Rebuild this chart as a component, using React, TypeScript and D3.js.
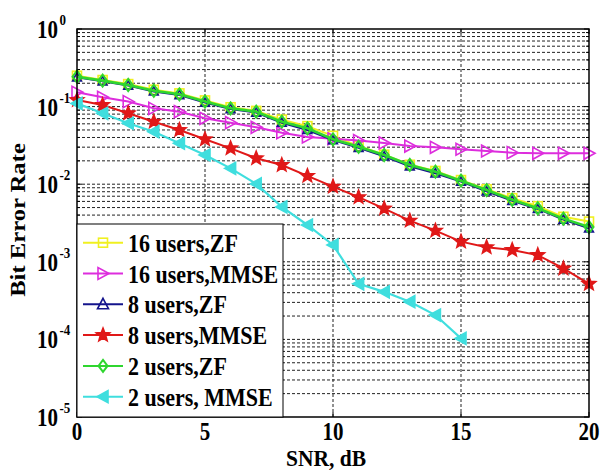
import React from "react";
import * as d3 from "d3";

const SNR = [0, 1, 2, 3, 4, 5, 6, 7, 8, 9, 10, 11, 12, 13, 14, 15, 16, 17, 18, 19, 20];
const SNR_2MMSE = [0, 1, 2, 3, 4, 5, 6, 7, 8, 9, 10, 11, 12, 13, 14, 15];

const zf16 = [0.25, 0.22, 0.195, 0.165, 0.148, 0.12, 0.098, 0.088, 0.068, 0.056, 0.042, 0.031, 0.024, 0.0178, 0.0148, 0.0113, 0.0086, 0.0066, 0.0052, 0.0038, 0.0033];
const mmse16 = [0.153, 0.132, 0.116, 0.095, 0.086, 0.0707, 0.0621, 0.0541, 0.0461, 0.0406, 0.0385, 0.0366, 0.034, 0.031, 0.0299, 0.0282, 0.0268, 0.0255, 0.025, 0.025, 0.025];
const zf8 = [0.238, 0.212, 0.187, 0.157, 0.141, 0.113, 0.093, 0.084, 0.062, 0.05, 0.037, 0.0295, 0.0228, 0.017, 0.0138, 0.0108, 0.0081, 0.0061, 0.0048, 0.0035, 0.0027];
const mmse8 = [0.1216, 0.105, 0.082, 0.0639, 0.0499, 0.0379, 0.029, 0.0216, 0.0177, 0.0128, 0.0093, 0.0068, 0.00485, 0.00339, 0.00252, 0.00182, 0.00154, 0.00142, 0.00122, 0.00082, 0.00052];
const zf2 = [0.243, 0.216, 0.19, 0.16, 0.144, 0.116, 0.095, 0.086, 0.064, 0.0525, 0.0379, 0.0304, 0.0238, 0.0177, 0.0145, 0.0111, 0.0084, 0.0063, 0.0049, 0.0036, 0.0028];
const mmse2 = [0.11, 0.082, 0.061, 0.0475, 0.0337, 0.0238, 0.016, 0.0101, 0.0051, 0.00298, 0.00165, 0.00052, 0.00041, 0.000306, 0.000206, 0.000103];

const X_TICKS = [0, 5, 10, 15, 20];
const Y_EXPONENTS = [0, -1, -2, -3, -4, -5];

const LABELS = ["16 users,ZF", "16 users,MMSE", "8 users,ZF", "8 users,MMSE", "2 users,ZF", "2 users, MMSE"];

type MarkerKind = "square" | "triRight" | "triUp" | "star" | "diamond" | "triLeft";

const SERIES: { label: string; x: number[]; y: number[]; color: string; marker: MarkerKind; filled: boolean; lw: number; ms: number }[] = [
  { label: LABELS[0], x: SNR, y: zf16, color: "#f0f020", marker: "square", filled: false, lw: 2, ms: 1 },
  { label: LABELS[1], x: SNR, y: mmse16, color: "#dd2ddd", marker: "triRight", filled: false, lw: 2, ms: 1 },
  { label: LABELS[2], x: SNR, y: zf8, color: "#14148c", marker: "triUp", filled: false, lw: 2, ms: 0.8 },
  { label: LABELS[3], x: SNR, y: mmse8, color: "#e01818", marker: "star", filled: true, lw: 2, ms: 1 },
  { label: LABELS[4], x: SNR, y: zf2, color: "#2fd62f", marker: "diamond", filled: false, lw: 2.6, ms: 1 },
  { label: LABELS[5], x: SNR_2MMSE, y: mmse2, color: "#3fdede", marker: "triLeft", filled: true, lw: 2.2, ms: 1 },
];

const FONT = "'Liberation Serif', 'Times New Roman', serif";

function Marker({ kind, cx, cy, color, filled, ms = 1 }: { kind: MarkerKind; cx: number; cy: number; color: string; filled: boolean; ms?: number }) {
  const sw = kind === "diamond" ? 2 : 1.6;
  const common = { stroke: color, strokeWidth: sw, fill: filled ? color : "none" };
  if (kind === "square") return <rect x={cx - 4.5} y={cy - 4.5} width={9} height={9} {...common} />;
  let pts: [number, number][] = [];
  if (kind === "triRight") pts = [[cx + 6, cy], [cx - 5, cy - 6], [cx - 5, cy + 6]];
  if (kind === "triLeft") pts = [[cx - 6, cy], [cx + 5, cy - 6], [cx + 5, cy + 6]];
  if (kind === "triUp") pts = [[cx, cy - 6 * ms], [cx + 5.5 * ms, cy + 4.5 * ms], [cx - 5.5 * ms, cy + 4.5 * ms]];
  if (kind === "diamond") pts = [[cx, cy - 6], [cx + 4.5, cy], [cx, cy + 6], [cx - 4.5, cy]];
  if (kind === "star") {
    for (let i = 0; i < 10; i++) {
      const r = i % 2 === 0 ? 7 : 3;
      const a = -Math.PI / 2 + (i * Math.PI) / 5;
      pts.push([cx + r * Math.cos(a), cy + r * Math.sin(a)]);
    }
  }
  return <polygon points={pts.map((p) => p.join(",")).join(" ")} {...common} strokeLinejoin="miter" />;
}

export default function App() {
  const L = 77, R = 589, T = 29, B = 417;
  const x = d3.scaleLinear().domain([0, 20]).range([L, R]);
  const y = d3.scaleLog().domain([1e-5, 1]).range([B, T]);

  const minorY: number[] = [];
  for (let e = -5; e < 0; e++) {
    for (let k = 2; k <= 9; k++) minorY.push(k * Math.pow(10, e));
  }
  const majorY = Y_EXPONENTS.map((e) => Math.pow(10, e));

  const line = d3
    .line<[number, number]>()
    .x((d) => x(d[0]))
    .y((d) => y(d[1]));

  const legendX0 = L, legendX1 = 283, legendY0 = 224, legendY1 = B;
  const rowY = (i: number) => 242.7 + i * 30.8;

  return (
    <svg width={601} height={470} style={{ position: "absolute", left: 0, top: 0, background: "#fff" }}>
      <rect x={0} y={0} width={601} height={470} fill="#fff" />
      {/* grid */}
      <g stroke="#222" strokeWidth={1} strokeDasharray="3,2" fill="none">
        {minorY.map((v, i) => (
          <line key={"mn" + i} x1={L} x2={R} y1={y(v)} y2={y(v)} />
        ))}
        {majorY.slice(1, -1).map((v, i) => (
          <line key={"mj" + i} x1={L} x2={R} y1={y(v)} y2={y(v)} />
        ))}
        {X_TICKS.slice(1, -1).map((t) => (
          <line key={"vx" + t} x1={x(t)} x2={x(t)} y1={T} y2={B} />
        ))}
      </g>
      {/* ticks */}
      <g stroke="#000" strokeWidth={1}>
        {X_TICKS.map((t) => (
          <g key={"xt" + t}>
            <line x1={x(t)} x2={x(t)} y1={B} y2={B - 5} />
            <line x1={x(t)} x2={x(t)} y1={T} y2={T + 5} />
          </g>
        ))}
        {majorY.map((v, i) => (
          <g key={"yt" + i}>
            <line x1={L} x2={L + 5} y1={y(v)} y2={y(v)} />
            <line x1={R} x2={R - 5} y1={y(v)} y2={y(v)} />
          </g>
        ))}
        {minorY.map((v, i) => (
          <g key={"ymt" + i}>
            <line x1={L} x2={L + 3} y1={y(v)} y2={y(v)} />
            <line x1={R} x2={R - 3} y1={y(v)} y2={y(v)} />
          </g>
        ))}
      </g>
      {/* series */}
      {SERIES.map((s, si) => {
        const pts = s.x.map((v, i) => [v, s.y[i]] as [number, number]);
        return (
          <g key={"s" + si}>
            <path d={line(pts) || ""} fill="none" stroke={s.color} strokeWidth={s.lw} />
            {pts.map((p, i) => (
              <Marker key={i} kind={s.marker} cx={x(p[0])} cy={y(p[1])} color={s.color} filled={s.filled} ms={s.ms} />
            ))}
          </g>
        );
      })}
      {/* axes box */}
      <rect x={L} y={T} width={R - L} height={B - T} fill="none" stroke="#000" strokeWidth={1.5} />
      {/* x tick labels */}
      {X_TICKS.map((t) => (
        <text
          key={"xl" + t}
          transform={`translate(${x(t)},440) scale(1,1.2)`}
          textAnchor="middle"
          fontFamily={FONT}
          fontWeight="bold"
          fontSize={21}
        >
          {String(t)}
        </text>
      ))}
      {/* y tick labels */}
      {Y_EXPONENTS.map((e) => {
        const py = y(Math.pow(10, e));
        return (
          <g key={"yl" + e}>
            <text transform={`translate(58,${py + 9}) scale(1,1.2)`} textAnchor="end" fontFamily={FONT} fontWeight="bold" fontSize={21}>
              10
            </text>
            <text transform={`translate(59.5,${py - 4}) scale(1,1.2)`} textAnchor="start" fontFamily={FONT} fontWeight="bold" fontSize={13}>
              {e === 0 ? "0" : "-" + Math.abs(e)}
            </text>
          </g>
        );
      })}
      {/* axis titles */}
      <text transform="translate(326,466) scale(1,1.1)" textAnchor="middle" fontFamily={FONT} fontWeight="bold" fontSize={21.5}>
        SNR, dB
      </text>
      <text transform="translate(25,220) rotate(-90) scale(1.12,1)" textAnchor="middle" fontFamily={FONT} fontWeight="bold" fontSize={22}>
        Bit Error Rate
      </text>
      {/* legend */}
      <rect x={legendX0} y={legendY0} width={legendX1 - legendX0} height={legendY1 - legendY0} fill="#fff" stroke="#000" strokeWidth={1} />
      {SERIES.map((s, i) => {
        const cy = rowY(i);
        return (
          <g key={"lg" + i}>
            <line x1={83} x2={123} y1={cy} y2={cy} stroke={s.color} strokeWidth={2} />
            <Marker kind={s.marker} cx={103} cy={cy} color={s.color} filled={s.filled} />
            <text transform={`translate(128,${cy + 9}) scale(1,1.12)`} fontFamily={FONT} fontWeight="bold" fontSize={22}>
              {s.label}
            </text>
          </g>
        );
      })}
    </svg>
  );
}
